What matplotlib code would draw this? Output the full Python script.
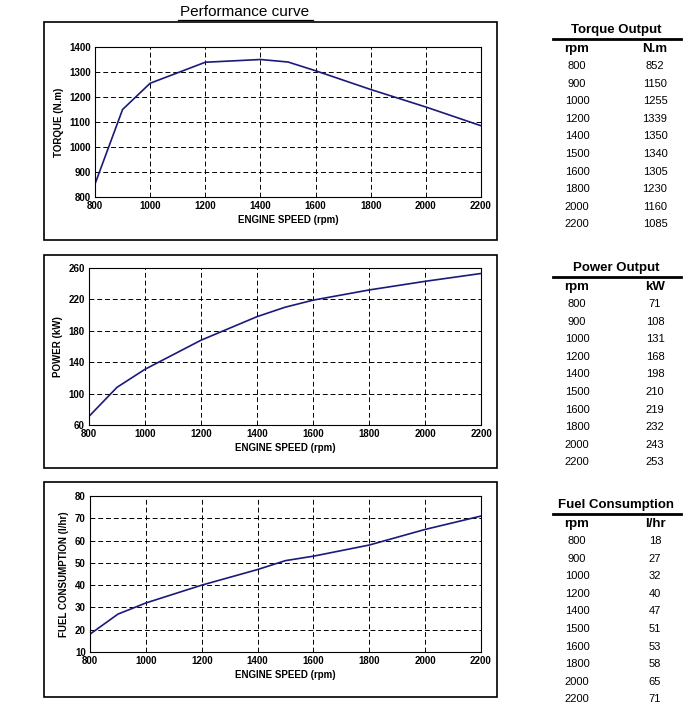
import matplotlib
matplotlib.use("Agg")
import matplotlib.pyplot as plt
from matplotlib.patches import Rectangle

rpm = [800, 900, 1000, 1200, 1400, 1500, 1600, 1800, 2000, 2200]
torque = [852, 1150, 1255, 1339, 1350, 1340, 1305, 1230, 1160, 1085]
power = [71, 108, 131, 168, 198, 210, 219, 232, 243, 253]
fuel = [18, 27, 32, 40, 47, 51, 53, 58, 65, 71]

plt.rcParams['font.family'] = ['Liberation Sans', 'DejaVu Sans']
W, H = 690, 715
fig = plt.figure(figsize=(W/100, H/100), dpi=100)

def box(x0, y0, x1, y1):
    fig.patches.append(Rectangle((x0/W, 1-y1/H), (x1-x0)/W, (y1-y0)/H,
                                 transform=fig.transFigure, fill=False, lw=1.2, ec='black'))

def ax_at(x0, y0, x1, y1):
    return fig.add_axes([x0/W, 1-y1/H, (x1-x0)/W, (y1-y0)/H])

panels = [
    ((44, 22, 497, 240), (95, 47, 481, 197), torque, 'TORQUE (N.m)', (800, 1400), range(800, 1401, 100), 'Torque Output', 'N.m', 30),
    ((44, 255, 497, 468), (89, 268, 481, 425), power, 'POWER (kW)', (60, 260), range(60, 261, 40), 'Power Output', 'kW', 268),
    ((44, 482, 497, 697), (90, 496, 481, 652), fuel, 'FUEL CONSUMPTION (l/hr)', (10, 80), range(10, 81, 10), 'Fuel Consumption', 'l/hr', 505),
]
for b, a, vals, ylab, ylim, yt, title, unit, ty in panels:
    box(*b)
    ax = ax_at(*a)
    ax.plot(rpm, vals, color='#1a1a7a', lw=1.2)
    ax.set_xlim(800, 2200)
    ax.set_ylim(*ylim)
    ax.set_xticks(range(800, 2201, 200))
    ax.set_yticks(list(yt))
    ax.grid(True, ls=(0, (5, 3)), color='black', lw=0.7)
    ax.tick_params(labelsize=7, length=0, pad=3)
    for l in ax.get_xticklabels() + ax.get_yticklabels():
        l.set_fontweight('bold')
    ax.set_xlabel('ENGINE SPEED (rpm)', fontsize=7, fontweight='bold', labelpad=3)
    ax.set_ylabel(ylab, fontsize=7, fontweight='bold', labelpad=4)
    for s in ax.spines.values():
        s.set_linewidth(0.8)
    fig.text(616/W, 1-ty/H, title, ha='center', va='center', fontsize=9.5, fontweight='bold')
    fig.add_artist(plt.Line2D([553/W, 681/W], [1-(ty+9)/H]*2, color='black', lw=2, transform=fig.transFigure))
    fig.text(577/W, 1-(ty+19)/H, 'rpm', ha='center', va='center', fontsize=9.5, fontweight='bold')
    fig.text(655/W, 1-(ty+19)/H, unit, ha='center', va='center', fontsize=9.5, fontweight='bold')
    for i, (r, v) in enumerate(zip(rpm, vals)):
        yy = ty + 36 + i*17.6
        fig.text(577/W, 1-yy/H, str(r), ha='center', va='center', fontsize=8)
        fig.text(655/W, 1-yy/H, str(v), ha='center', va='center', fontsize=8)

fig.text(245/W, 1-12/H, 'Performance curve', ha='center', va='center', fontsize=11)
fig.add_artist(plt.Line2D([178/W, 313/W], [1-20/H]*2, color='black', lw=0.9, transform=fig.transFigure))

fig.savefig('out.png', dpi=100)
